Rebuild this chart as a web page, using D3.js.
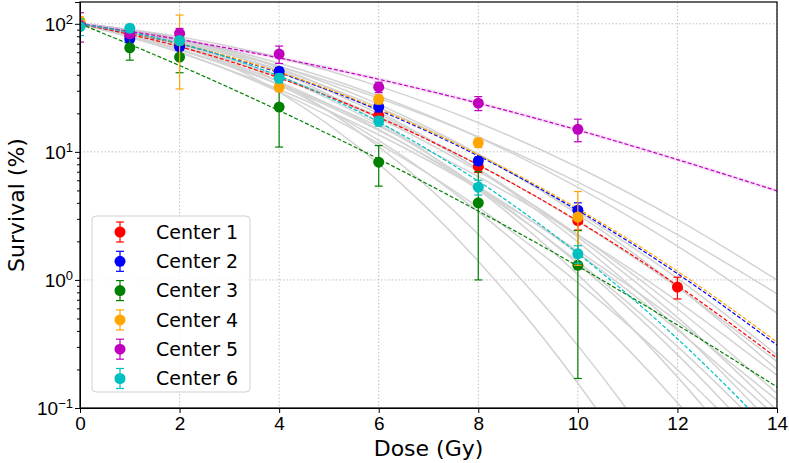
<!DOCTYPE html>
<html lang="en">
<head>
<meta charset="UTF-8">
<title>Survival curves</title>
<script src="https://d3js.org/d3.v7.min.js"></script>
<style>
  body { margin: 0; background: #fff; }
  svg { display: block; font-family: "DejaVu Sans", sans-serif; }
</style>
</head>
<body>
<svg id="chart" width="789" height="463"></svg>
<script>
const curveDoses = [0, 2, 4, 6, 8, 10, 12, 14];

// fitted curves per center (survival %, read at curveDoses)
const fitRed     = [100, 66.3, 37.8, 18.6, 7.9, 2.88, 0.905, 0.245];
const fitBlue    = [100, 69.6, 41.5, 21.2, 9.3, 3.49, 1.12, 0.31];
const fitGreen   = [100, 47.2, 21.0, 8.8, 3.45, 1.28, 0.445, 0.146];
const fitOrange  = [100, 70.0, 42.0, 21.6, 9.5, 3.6, 1.17, 0.327];
const fitMagenta = [100, 75.4, 54.1, 36.9, 24.0, 14.8, 8.7, 4.96];
const fitCyan    = [100, 70.4, 39.1, 17.1, 5.9, 1.61, 0.347, 0.059];

// grey background curves (survival %, read at curveDoses)
const greyCurves = [
  [100, 79.4, 54.6, 32.6, 16.9, 7.59, 2.96, 1.0],
  [100, 72.5, 46.4, 26.3, 13.1, 5.80, 2.26, 0.78],
  [100, 75.8, 49.2, 27.3, 13.0, 5.29, 1.84, 0.55],
  [100, 72.1, 43.7, 22.2, 9.49, 3.40, 1.03, 0.26],
  [100, 67.1, 38.6, 18.9, 7.95, 2.85, 0.876, 0.23],
  [100, 75.5, 46.6, 23.5, 9.65, 3.25, 0.89, 0.2],
  [100, 62.4, 33.7, 15.8, 6.40, 2.25, 0.683, 0.18],
  [100, 68.7, 39.0, 18.3, 7.07, 2.26, 0.596, 0.13],
  [100, 59.7, 30.7, 13.6, 5.16, 1.69, 0.475, 0.115],
  [100, 73.1, 42.6, 19.8, 7.33, 2.16, 0.51, 0.0955],
  [100, 63.6, 33.6, 14.7, 5.36, 1.62, 0.407, 0.0848],
  [100, 76.4, 45.2, 20.6, 7.27, 1.98, 0.418, 0.0682],
  [100, 66.3, 35.2, 15.0, 5.09, 1.39, 0.303, 0.053],
  [100, 70.6, 38.5, 16.3, 5.31, 1.34, 0.261, 0.0395],
  [100, 60.3, 29.4, 11.6, 3.69, 0.952, 0.199, 0.0335],
  [100, 75.9, 42.1, 17.1, 5.07, 1.10, 0.175, 0.0203],
  [100, 66.6, 33.2, 12.3, 3.42, 0.708, 0.110, 0.0127],
  [100, 73.2, 35.1, 11.0, 2.27, 0.307, 0.0271, 0.00157],
  [100, 67.9, 29.3, 8.05, 1.40, 0.156, 0.011, 0.00049]
];

// measured points: doses, mean survival (%), error (+/-)
const doses1 = [0, 1, 2, 4, 6, 8, 10, 12];
const surv1  = [100, 80, 68, 40, 19.3, 7.7, 2.9, 0.88];
const err1   = [8, 5, 5, 3, 1.8, 0.8, 0.45, 0.17];

const doses2 = [0, 1, 2, 4, 6, 8, 10];
const surv2  = [100, 76, 66, 42.6, 22.5, 8.5, 3.5];
const err2   = [6, 4, 4, 3, 2, 0.6, 0.5];

const doses3 = [0, 1, 2, 4, 6, 8, 10];
const surv3  = [100, 65, 55, 22.4, 8.3, 4.0, 1.3];
const err3   = [10, 13, 13.5, 11.5, 2.9, 3.0, 1.13];

const doses4 = [0, 2, 4, 6, 8, 10];
const surv4  = [105, 74, 32, 25.7, 11.8, 3.1];
const err4   = [8, 43, 2.5, 2, 1, 1.8];

const doses5 = [0, 1, 2, 4, 6, 8, 10];
const surv5  = [97, 84, 84, 58, 32, 24, 15];
const err5   = [25, 6, 8, 9, 3, 3, 3];

const doses6 = [0, 1, 2, 4, 6, 8, 10];
const surv6  = [95, 92.5, 74, 37.6, 17.4, 5.3, 1.6];
const err6   = [14, 6, 5, 3, 1.5, 0.7, 0.25];

const centerNames = ["Center 1", "Center 2", "Center 3", "Center 4", "Center 5", "Center 6"];
const centerColors = ["red", "blue", "green", "orange", "m", "c"];

const xTicks = [0, 2, 4, 6, 8, 10, 12, 14];
const yMajor = [0.1, 1, 10, 100];
const yExp = ["\u22121", "0", "1", "2"];

// --- setup
const colorMap = { red: "#ff0000", blue: "#0000ff", green: "#008000", orange: "#ffa500", m: "#bf00bf", c: "#00bfbf" };
const centers = [
  { name: centerNames[0], color: colorMap[centerColors[0]], fit: fitRed,     d: doses1, s: surv1, e: err1 },
  { name: centerNames[1], color: colorMap[centerColors[1]], fit: fitBlue,    d: doses2, s: surv2, e: err2 },
  { name: centerNames[2], color: colorMap[centerColors[2]], fit: fitGreen,   d: doses3, s: surv3, e: err3 },
  { name: centerNames[3], color: colorMap[centerColors[3]], fit: fitOrange,  d: doses4, s: surv4, e: err4 },
  { name: centerNames[4], color: colorMap[centerColors[4]], fit: fitMagenta, d: doses5, s: surv5, e: err5 },
  { name: centerNames[5], color: colorMap[centerColors[5]], fit: fitCyan,    d: doses6, s: surv6, e: err6 }
];

const margin = { top: 2, right: 12, bottom: 55, left: 80 };
const W = 789, H = 463;
const width = W - margin.left - margin.right;
const height = H - margin.top - margin.bottom;

const svg = d3.select("#chart");
const g = svg.append("g").attr("transform", `translate(${margin.left},${margin.top})`);

const x = d3.scaleLinear().domain([0, 14]).range([0, width]);
const y = d3.scaleLog().domain([0.1, 148]).range([height, 0]);

// grid
const gridColor = "#b0b0b0";
g.append("g").selectAll("line").data(xTicks).enter().append("line")
  .attr("x1", d => x(d)).attr("x2", d => x(d)).attr("y1", 0).attr("y2", height)
  .attr("stroke", gridColor).attr("stroke-width", 0.8).attr("stroke-dasharray", "1.5,2");
g.append("g").selectAll("line").data(yMajor).enter().append("line")
  .attr("x1", 0).attr("x2", width).attr("y1", d => y(d)).attr("y2", d => y(d))
  .attr("stroke", gridColor).attr("stroke-width", 0.8).attr("stroke-dasharray", "1.5,2");

svg.append("defs").append("clipPath").attr("id", "plot-clip")
  .append("rect").attr("width", width).attr("height", height);

const plot = g.append("g").attr("clip-path", "url(#plot-clip)");

const line = d3.line()
  .x((d, i) => x(curveDoses[i]))
  .y(d => y(d))
  .curve(d3.curveMonotoneX);

// grey curves
plot.selectAll("path.grey").data(greyCurves).enter().append("path")
  .attr("class", "grey")
  .attr("d", line)
  .attr("fill", "none")
  .attr("stroke", "#d3d3d3")
  .attr("stroke-width", 1.5);

// magenta band
plot.append("path")
  .attr("d", line(fitMagenta))
  .attr("fill", "none")
  .attr("stroke", "#bf00bf")
  .attr("stroke-opacity", 0.1)
  .attr("stroke-width", 4);

// colored fits
plot.selectAll("path.fit").data(centers).enter().append("path")
  .attr("class", "fit")
  .attr("d", c => line(c.fit))
  .attr("fill", "none")
  .attr("stroke", c => c.color)
  .attr("stroke-width", 1.2)
  .attr("stroke-dasharray", "4,2");

// error bars and points
centers.forEach(c => {
  const pts = c.d.map((dd, i) => ({ dose: dd, s: c.s[i], e: c.e[i] }));
  const grp = plot.append("g");
  const eb = grp.selectAll("g").data(pts).enter().append("g");
  eb.append("line")
    .attr("x1", p => x(p.dose)).attr("x2", p => x(p.dose))
    .attr("y1", p => y(Math.max(p.s - p.e, 0.01))).attr("y2", p => y(p.s + p.e))
    .attr("stroke", c.color).attr("stroke-width", 1.2);
  [-1, 1].forEach(sgn => {
    eb.append("line")
      .attr("x1", p => x(p.dose) - 4).attr("x2", p => x(p.dose) + 4)
      .attr("y1", p => y(Math.max(p.s + sgn * p.e, 0.01))).attr("y2", p => y(Math.max(p.s + sgn * p.e, 0.01)))
      .attr("stroke", c.color).attr("stroke-width", 1.2);
  });
  eb.append("circle")
    .attr("cx", p => x(p.dose)).attr("cy", p => y(p.s))
    .attr("r", 5.5).attr("fill", c.color);
});

// axes
const xAxis = g.append("g").attr("transform", `translate(0,${height})`)
  .call(d3.axisBottom(x).tickValues(xTicks).tickSize(5).tickPadding(4).tickFormat(d3.format("d")));
xAxis.selectAll("text").style("font-size", "19px").attr("fill", "#000");

const yMinor = [];
[0.1, 1, 10].forEach(dec => { for (let k = 2; k <= 9; k++) yMinor.push(dec * k); });
g.append("g").call(d3.axisLeft(y).tickValues(yMinor).tickSize(3).tickFormat(""))
  .call(a => a.select(".domain").remove());

const yAxis = g.append("g").call(d3.axisLeft(y).tickValues(yMajor).tickSize(5).tickFormat(""));
yAxis.selectAll(".tick").each(function (d, i) {
  const t = d3.select(this).append("text")
    .attr("x", -7).attr("dy", "0.35em")
    .attr("text-anchor", "end").attr("fill", "#000")
    .style("font-size", "19px");
  t.append("tspan").text("10");
  t.append("tspan").attr("dy", "-0.55em").style("font-size", "13px").text(yExp[i]);
});

// frame
g.append("rect").attr("width", width).attr("height", height)
  .attr("fill", "none").attr("stroke", "#000").attr("stroke-width", 1.2);

// axis labels
svg.append("text")
  .attr("x", margin.left + width / 2).attr("y", 456)
  .attr("text-anchor", "middle").style("font-size", "22px")
  .text("Dose (Gy)");
svg.append("text")
  .attr("transform", `translate(24,${margin.top + height / 2}) rotate(-90)`)
  .attr("text-anchor", "middle").style("font-size", "22px")
  .text("Survival (%)");

// legend
const leg = svg.append("g").attr("transform", "translate(92,216)");
leg.append("rect").attr("width", 158).attr("height", 176).attr("rx", 4)
  .attr("fill", "#fff").attr("fill-opacity", 0.8)
  .attr("stroke", "#d0d0d0").attr("stroke-width", 1);
const items = leg.selectAll("g.item").data(centers).enter().append("g")
  .attr("transform", (c, i) => `translate(28,${16 + i * 29.3})`);
items.append("line").attr("y1", -10).attr("y2", 10).attr("stroke", c => c.color).attr("stroke-width", 1.2);
items.append("line").attr("x1", -4).attr("x2", 4).attr("y1", -10).attr("y2", -10).attr("stroke", c => c.color).attr("stroke-width", 1.2);
items.append("line").attr("x1", -4).attr("x2", 4).attr("y1", 10).attr("y2", 10).attr("stroke", c => c.color).attr("stroke-width", 1.2);
items.append("circle").attr("r", 5.5).attr("fill", c => c.color);
items.append("text").attr("x", 36).attr("dy", "0.35em").style("font-size", "19px")
  .text(c => c.name);
</script>
</body>
</html>
